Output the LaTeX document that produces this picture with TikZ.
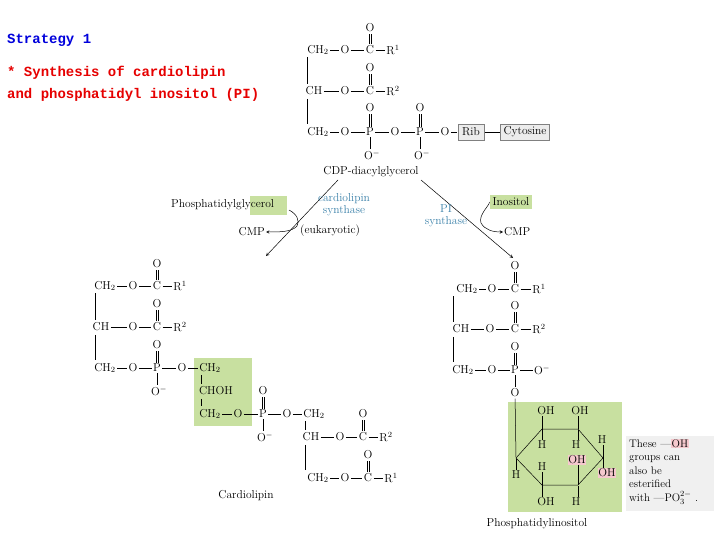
\documentclass[tikz,border=0pt]{standalone}
\usepackage{fontspec}
\newfontfamily\monof{Liberation Mono}
\definecolor{lgreen}{RGB}{200,224,160}
\definecolor{lpink}{RGB}{245,200,205}
\definecolor{eblue}{RGB}{60,130,170}
\definecolor{tblue}{RGB}{0,0,220}
\definecolor{tred}{RGB}{230,0,0}
\newcommand\dbond[2]{\draw[bond,transform canvas={xshift=-1pt}] (#1)--(#2);\draw[bond,transform canvas={xshift=1pt}] (#1)--(#2);}
\begin{document}
\begin{tikzpicture}[x=1pt,y=-1pt,
  atm/.style={inner sep=0.5pt,font=\fontsize{11.5}{12}\selectfont},
  bond/.style={shorten >=0.8pt,shorten <=0.8pt,line width=0.5pt},
  lab/.style={font=\fontsize{11.5}{12}\selectfont,inner sep=1pt},
  ttl/.style={font=\monof\bfseries\fontsize{14}{16}\selectfont,anchor=west,inner sep=0pt}]
\useasboundingbox (0,0) rectangle (720,540);
\fill[white] (0,0) rectangle (720,540);
% titles
\node[ttl,text=tblue] (t1) at (7,40) {Strategy 1};
\node[ttl,text=tred] (t2) at (7,73) {* Synthesis of cardiolipin};
\node[ttl,text=tred] (t3) at (7,95) {and phosphatidyl inositol (PI)};

% ===== CDP-diacylglycerol =====
\node[atm] (a1) at (318,50) {CH$_2$};
\node[atm] (a2) at (345,50) {O};
\node[atm] (a3) at (370,50) {C};
\node[atm] (a4) at (393,50) {R$^1$};
\node[atm] (a5) at (370,28) {O};
\draw[bond] (a1)--(a2); \draw[bond] (a2)--(a3); \draw[bond] (a3)--(a4); \dbond{a3}{a5}
\node[atm] (b1) at (314,91) {CH};
\node[atm] (b2) at (345,91) {O};
\node[atm] (b3) at (370,91) {C};
\node[atm] (b4) at (393,91) {R$^2$};
\node[atm] (b5) at (370,68) {O};
\draw[bond] (b1)--(b2); \draw[bond] (b2)--(b3); \draw[bond] (b3)--(b4); \dbond{b3}{b5}
\node[atm] (c1) at (318,132) {CH$_2$};
\node[atm] (c2) at (345,132) {O};
\node[atm] (c3) at (370,132) {P};
\node[atm] (c4) at (395,132) {O};
\node[atm] (c5) at (420,132) {P};
\node[atm] (c6) at (445,132) {O};
\node[atm,draw=gray,fill=gray!15,minimum height=16pt,inner xsep=4pt] (c7) at (471,132) {Rib};
\node[atm,draw=gray,fill=gray!15,minimum height=16pt,inner xsep=3pt] (c8) at (525,132) {Cytosine};
\node[atm] (c9) at (370,108) {O};
\node[atm] (c10) at (372,155) {O$^-$};
\node[atm] (c11) at (420,108) {O};
\node[atm] (c12) at (422,155) {O$^-$};
\draw[bond] (c1)--(c2); \draw[bond] (c2)--(c3); \draw[bond] (c3)--(c4); \draw[bond] (c4)--(c5);
\draw[bond] (c5)--(c6); \draw[bond] (c6)--(c7); \draw[bond] (c7)--(c8);
\dbond{c3}{c9} \draw[bond] (c3)--(c10.north -| c3); \dbond{c5}{c11} \draw[bond] (c5)--(c12.north -| c5);
\draw[bond] (307,57)--(307,84) (307,98)--(307,125);
\node[lab] (cdp) at (371,172) {CDP-diacylglycerol};

% ===== reactions =====
\coordinate (l1) at (338,180); \coordinate (l2) at (266,256);
\draw[-stealth,line width=0.5pt] (l1)--(l2);
\coordinate (r1) at (421,180); \coordinate (r2) at (513,258);
\draw[-stealth,line width=0.5pt] (r1)--(r2);
\fill[lgreen] (250,196) rectangle (287,215);
\node[lab,anchor=west] (pg) at (170,205) {Phosphatidylglycerol};
\node[lab,anchor=east] (cmp1) at (266,232) {CMP};
\draw[-stealth,line width=0.5pt] (289,210) .. controls (297,214) and (300,221) .. (297,226) .. controls (292,232) and (280,232) .. (cmp1.east);
\node[lab,text=eblue,align=center] (cs) at (344,205) {cardiolipin\\synthase};
\node[lab] (euk) at (330,231) {(eukaryotic)};
\node[lab,fill=lgreen,inner xsep=3pt,inner ysep=3pt] (ino) at (511,202) {Inositol};
\node[lab,text=eblue,align=center] (pis) at (446,216) {PI\\synthase};
\node[lab,anchor=west] (cmp2) at (503,232) {CMP};
\draw[-stealth,line width=0.5pt] (ino.west) .. controls (490,205) and (478,215) .. (481,223) .. controls (485,230) and (493,232) .. (cmp2.west);

% ===== Cardiolipin =====
\node[atm] (d1) at (105,286) {CH$_2$};
\node[atm] (d2) at (133,286) {O};
\node[atm] (d3) at (157,286) {C};
\node[atm] (d4) at (180,286) {R$^1$};
\node[atm] (d5) at (157,264) {O};
\draw[bond] (d1)--(d2); \draw[bond] (d2)--(d3); \draw[bond] (d3)--(d4); \dbond{d3}{d5}
\node[atm] (e1) at (101,327) {CH};
\node[atm] (e2) at (133,327) {O};
\node[atm] (e3) at (157,327) {C};
\node[atm] (e4) at (180,327) {R$^2$};
\node[atm] (e5) at (157,304) {O};
\draw[bond] (e1)--(e2); \draw[bond] (e2)--(e3); \draw[bond] (e3)--(e4); \dbond{e3}{e5}
\fill[lgreen] (194,358) rectangle (252,426);
\node[atm] (f1) at (105,368) {CH$_2$};
\node[atm] (f2) at (133,368) {O};
\node[atm] (f3) at (157,368) {P};
\node[atm] (f4) at (182,368) {O};
\node[atm] (f5) at (210,368) {CH$_2$};
\node[atm] (f6) at (157,345) {O};
\node[atm] (f7) at (159,391) {O$^-$};
\draw[bond] (f1)--(f2); \draw[bond] (f2)--(f3); \draw[bond] (f3)--(f4); \draw[bond] (f4)--(f5);
\dbond{f3}{f6} \draw[bond] (f3)--(f7.north -| f3);
\draw[bond] (95,293)--(95,320) (95,334)--(95,361);
\node[atm] (g1) at (216,391) {CHOH};
\node[atm] (g2) at (210,414) {CH$_2$};
\draw[bond] (201,375)--(201,384) (201,398)--(201,407);
\node[atm] (g3) at (238,414) {O};
\node[atm] (g4) at (263,414) {P};
\node[atm] (g5) at (287,414) {O};
\node[atm] (g6) at (314,414) {CH$_2$};
\node[atm] (g7) at (263,391) {O};
\node[atm] (g8) at (265,437) {O$^-$};
\draw[bond] (g2)--(g3); \draw[bond] (g3)--(g4); \draw[bond] (g4)--(g5); \draw[bond] (g5)--(g6);
\dbond{g4}{g7} \draw[bond] (g4)--(g8.north -| g4);
\node[atm] (h1) at (311,437) {CH};
\node[atm] (h2) at (340,437) {O};
\node[atm] (h3) at (363,437) {C};
\node[atm] (h4) at (386,437) {R$^2$};
\node[atm] (h5) at (363,414) {O};
\draw[bond] (h1)--(h2); \draw[bond] (h2)--(h3); \draw[bond] (h3)--(h4); \dbond{h3}{h5}
\node[atm] (i1) at (318,478) {CH$_2$};
\node[atm] (i2) at (345,478) {O};
\node[atm] (i3) at (368,478) {C};
\node[atm] (i4) at (391,478) {R$^1$};
\node[atm] (i5) at (368,455) {O};
\draw[bond] (i1)--(i2); \draw[bond] (i2)--(i3); \draw[bond] (i3)--(i4); \dbond{i3}{i5}
\draw[bond] (305,421)--(305,430) (305,444)--(305,471);
\node[lab] (cl) at (246,496) {Cardiolipin};

% ===== Phosphatidylinositol =====
\node[atm] (j1) at (467,289) {CH$_2$};
\node[atm] (j2) at (492,289) {O};
\node[atm] (j3) at (515,289) {C};
\node[atm] (j4) at (539,289) {R$^1$};
\node[atm] (j5) at (515,266) {O};
\draw[bond] (j1)--(j2); \draw[bond] (j2)--(j3); \draw[bond] (j3)--(j4); \dbond{j3}{j5}
\node[atm] (k1) at (461,329) {CH};
\node[atm] (k2) at (490,329) {O};
\node[atm] (k3) at (515,329) {C};
\node[atm] (k4) at (539,329) {R$^2$};
\node[atm] (k5) at (515,306) {O};
\draw[bond] (k1)--(k2); \draw[bond] (k2)--(k3); \draw[bond] (k3)--(k4); \dbond{k3}{k5}
\node[atm] (m1) at (463,370) {CH$_2$};
\node[atm] (m2) at (492,370) {O};
\node[atm] (m3) at (515,370) {P};
\node[atm] (m4) at (542,370) {O$^-$};
\node[atm] (m5) at (515,347) {O};
\node[atm] (m6) at (515,393) {O};
\draw[bond] (m1)--(m2); \draw[bond] (m2)--(m3); \draw[bond] (m3)--(m4.west |- m3); \dbond{m3}{m5} \draw[bond] (m3)--(m6);
\draw[bond] (453,296)--(453,322) (453,336)--(453,363);
\fill[lgreen] (508,402) rectangle (622,512);
\coordinate (v1) at (516,458); \coordinate (v2) at (542,429); \coordinate (v3) at (578,429);
\coordinate (v4) at (603,458); \coordinate (v5) at (578,485); \coordinate (v6) at (542,485);
\draw[line width=0.5pt] (v1)--(v2)--(v3)--(v4)--(v5)--(v6)--cycle;
\draw[bond] (m6)--(v1);
\node[atm] (n1) at (546,411) {OH};
\node[atm] (n2) at (580,411) {OH};
\node[atm] (n3) at (542,445) {H};
\node[atm] (n4) at (576,445) {H};
\node[atm,fill=lpink] (n5) at (577,460) {OH};
\node[atm] (n6) at (542,467) {H};
\node[atm] (n7) at (602,440) {H};
\node[atm,fill=lpink] (n8) at (607,473) {OH};
\node[atm] (n9) at (546,502) {OH};
\node[atm] (n10) at (576,502) {H};
\node[atm] (n11) at (516,475) {H};
\draw[bond] (v2)--(n1.south -| v2) (v3)--(n2.south -| v3) (v2)--(n3.north -| v2) (v3)--(n4.north -| v3);
\draw[bond] (v6)--(n6.south -| v6) (v5)--(n5.south -| v5) (v6)--(n9.north -| v6) (v5)--(n10.north -| v5);
\draw[bond] (v4)--(n7.south -| v4) (v4)--(n8.north -| v4) (v1)--(n11);
\fill[gray!12] (626,436) rectangle (714,511);
\setlength\fboxsep{0.5pt}
\node[lab,anchor=north west,align=left,font=\fontsize{11}{13.5}\selectfont,inner sep=0pt] (note) at (629,439)
 {These ---\colorbox{lpink}{OH}\\groups can\\also be\\esterified\\with ---PO$_3^{2-}$ .};
\node[lab] (pi) at (537,524) {Phosphatidylinositol};
\end{tikzpicture}
\end{document}
